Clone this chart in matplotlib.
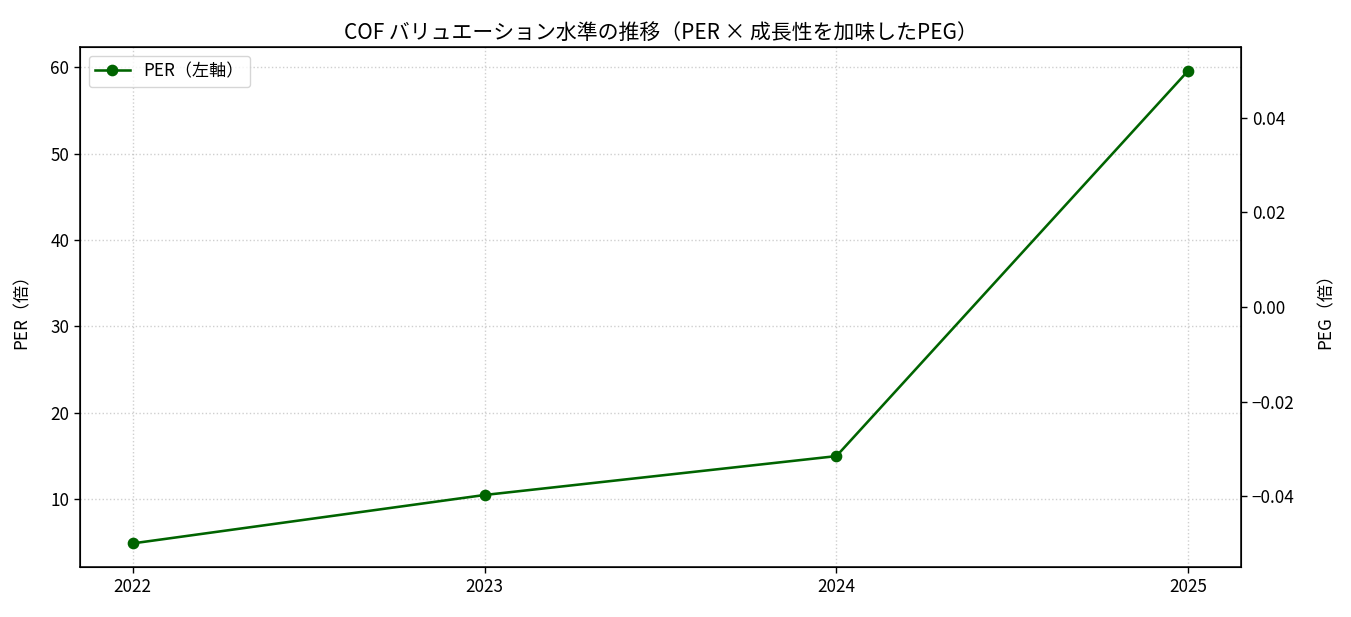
import matplotlib
matplotlib.use("Agg")
import matplotlib.pyplot as plt
import numpy as np

plt.rcParams['font.family'] = ['Noto Sans CJK JP', 'DejaVu Sans']

years = [2022, 2023, 2024, 2025]
per = [4.9, 10.5, 15.0, 59.6]

fig = plt.figure(figsize=(13.51, 6.17), dpi=100)
ax = fig.add_axes([0.0592, 0.081, 0.8594, 0.8428])
ax.plot(years, per, marker='o', color='darkgreen', linewidth=1.85, markersize=7.4, label='PER（左軸）')
ax.set_xticks(years)
ax.set_xticklabels([str(y) for y in years])
ax.set_ylabel('PER（倍）', fontsize=12.3, labelpad=14)
ax.tick_params(labelsize=12.3, length=4.3, width=1)
ax.grid(True, linestyle=':', color='#b0b0b0', alpha=0.6, linewidth=1)
ax.set_title('COF バリュエーション水準の推移（PER × 成長性を加味したPEG）', fontsize=15)
ax.legend(loc='upper left', fontsize=12.3)
for s in ax.spines.values():
    s.set_linewidth(1.1)

ax2 = ax.twinx()
ax2.set_ylim(-0.055, 0.055)
ax2.set_yticks([-0.04, -0.02, 0.0, 0.02, 0.04])
ax2.set_ylabel('PEG（倍）', fontsize=12.3, labelpad=16)
ax2.tick_params(labelsize=12.3, length=4.3, width=1)

fig.savefig('out.png', dpi=100)
